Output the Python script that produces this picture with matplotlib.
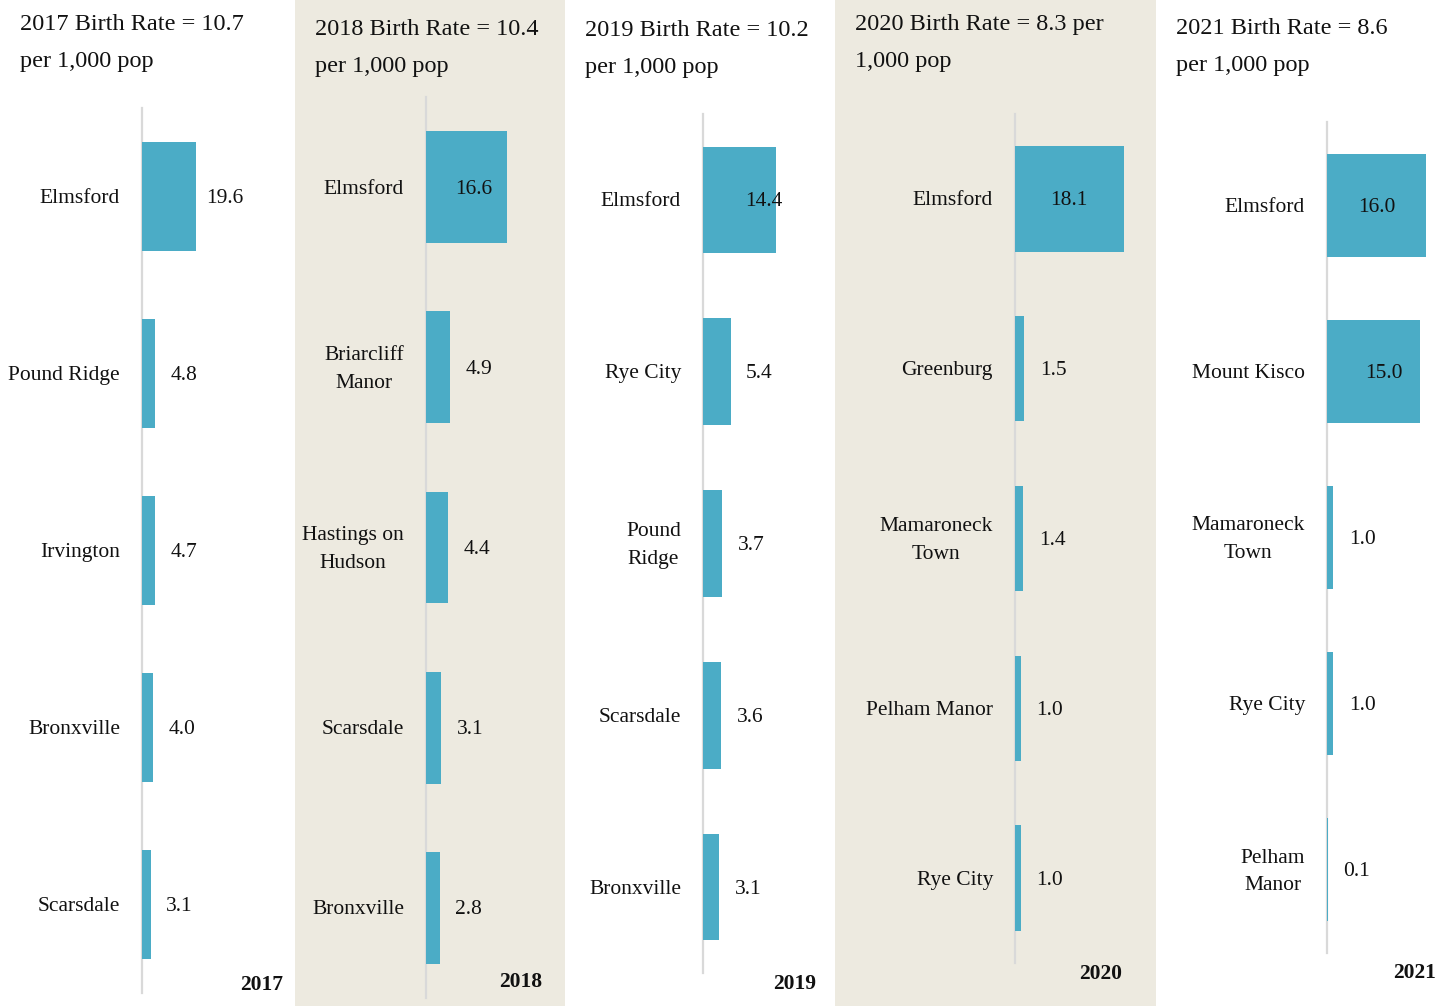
import matplotlib.pyplot as plt

# data, one list per year
years = ["2017", "2018", "2019", "2020", "2021"]
titles = [
    "2017 Birth Rate = 10.7\nper 1,000 pop",
    "2018 Birth Rate = 10.4\nper 1,000 pop",
    "2019 Birth Rate = 10.2\nper 1,000 pop",
    "2020 Birth Rate = 8.3 per\n1,000 pop",
    "2021 Birth Rate = 8.6\nper 1,000 pop",
]
towns_2017 = ["Elmsford", "Pound Ridge", "Irvington", "Bronxville", "Scarsdale"]
rates_2017 = [19.6, 4.8, 4.7, 4.0, 3.1]
towns_2018 = ["Elmsford", "Briarcliff\nManor", "Hastings on\nHudson", "Scarsdale", "Bronxville"]
rates_2018 = [16.6, 4.9, 4.4, 3.1, 2.8]
towns_2019 = ["Elmsford", "Rye City", "Pound\nRidge", "Scarsdale", "Bronxville"]
rates_2019 = [14.4, 5.4, 3.7, 3.6, 3.1]
towns_2020 = ["Elmsford", "Greenburg", "Mamaroneck\nTown", "Pelham Manor", "Rye City"]
rates_2020 = [18.1, 1.5, 1.4, 1.0, 1.0]
towns_2021 = ["Elmsford", "Mount Kisco", "Mamaroneck\nTown", "Rye City", "Pelham\nManor"]
rates_2021 = [16.0, 15.0, 1.0, 1.0, 0.1]

towns = [towns_2017, towns_2018, towns_2019, towns_2020, towns_2021]
rates = [rates_2017, rates_2018, rates_2019, rates_2020, rates_2021]

# layout in pixels: panel left/right, axis x, plot top/bottom, px per unit
W, H = 1452, 1006
panels = [
    dict(left=0, right=295, ax_x=142, top=108, bottom=993, ppu=2.77, bg="white",
         title_y=23, year_right=283, year_y=985),
    dict(left=295, right=565, ax_x=426, top=97, bottom=998, ppu=4.9, bg="#EDEAE0",
         title_y=28, year_right=542, year_y=982),
    dict(left=565, right=835, ax_x=703, top=114, bottom=973, ppu=5.1, bg="white",
         title_y=29, year_right=816, year_y=984),
    dict(left=835, right=1156, ax_x=1015, top=114, bottom=963, ppu=6.02, bg="#EDEAE0",
         title_y=23, year_right=1122, year_y=974),
    dict(left=1156, right=1452, ax_x=1327, top=122, bottom=953, ppu=6.2, bg="white",
         title_y=27, year_right=1436, year_y=973),
]
# value labels that sit inside the bar (px from the axis line)
inside_labels = {1: {0: 48}, 2: {0: 61}, 3: {0: 54}, 4: {0: 50, 1: 57}}

bar_color = "#4BACC6"
text_color = "#111111"
plt.rcParams['font.family'] = ['Liberation Serif', 'DejaVu Serif']

fig = plt.figure(figsize=(W / 100, H / 100), dpi=100)

for i, p in enumerate(panels):
    # background strip
    bg = fig.add_axes([p["left"] / W, 0, (p["right"] - p["left"]) / W, 1])
    bg.set_facecolor(p["bg"])
    bg.set_xticks([])
    bg.set_yticks([])
    for s in bg.spines.values():
        s.set_visible(False)
    bg.set_zorder(0)

    fig.text((p["left"] + 20) / W, 1 - (p["title_y"] - 9) / H, titles[i],
             fontsize=17.5, color=text_color, ha="left", va="top", linespacing=2.0)
    fig.text(p["year_right"] / W, 1 - p["year_y"] / H, years[i], fontsize=15.5,
             fontweight="bold", color=text_color, ha="right", va="center")

    w_px = p["right"] - p["ax_x"]
    ax = fig.add_axes([p["ax_x"] / W, 1 - p["bottom"] / H, w_px / W,
                       (p["bottom"] - p["top"]) / H])
    ax.set_zorder(1)
    ax.patch.set_visible(False)
    ax.set_xlim(0, w_px / p["ppu"])
    ax.set_ylim(len(towns[i]) - 0.5, -0.5)
    ax.barh(range(len(rates[i])), rates[i], height=0.62, color=bar_color,
            linewidth=0, zorder=2)
    for s in ["top", "right", "bottom"]:
        ax.spines[s].set_visible(False)
    ax.spines["left"].set_color("#D9D9D9")
    ax.spines["left"].set_linewidth(1.6)
    ax.spines["left"].set_zorder(1)
    ax.set_xticks([])
    ax.set_yticks([])

    for j, (name, val) in enumerate(zip(towns[i], rates[i])):
        ax.annotate(name, xy=(0, j), xytext=(-22, -2), textcoords="offset pixels",
                    ha="right", va="center", multialignment="center",
                    fontsize=15.5, color=text_color, linespacing=1.6)
        if j in inside_labels.get(i, {}):
            ax.annotate(f"{val:.1f}", xy=(0, j), xytext=(inside_labels[i][j], -2),
                        textcoords="offset pixels", ha="center", va="center",
                        fontsize=15.5, color=text_color, zorder=3)
        else:
            ax.annotate(f"{val:.1f}", xy=(val, j), xytext=(29, -2),
                        textcoords="offset pixels", ha="center", va="center",
                        fontsize=15.5, color=text_color, zorder=3)

fig.savefig("out.png", dpi=100)
